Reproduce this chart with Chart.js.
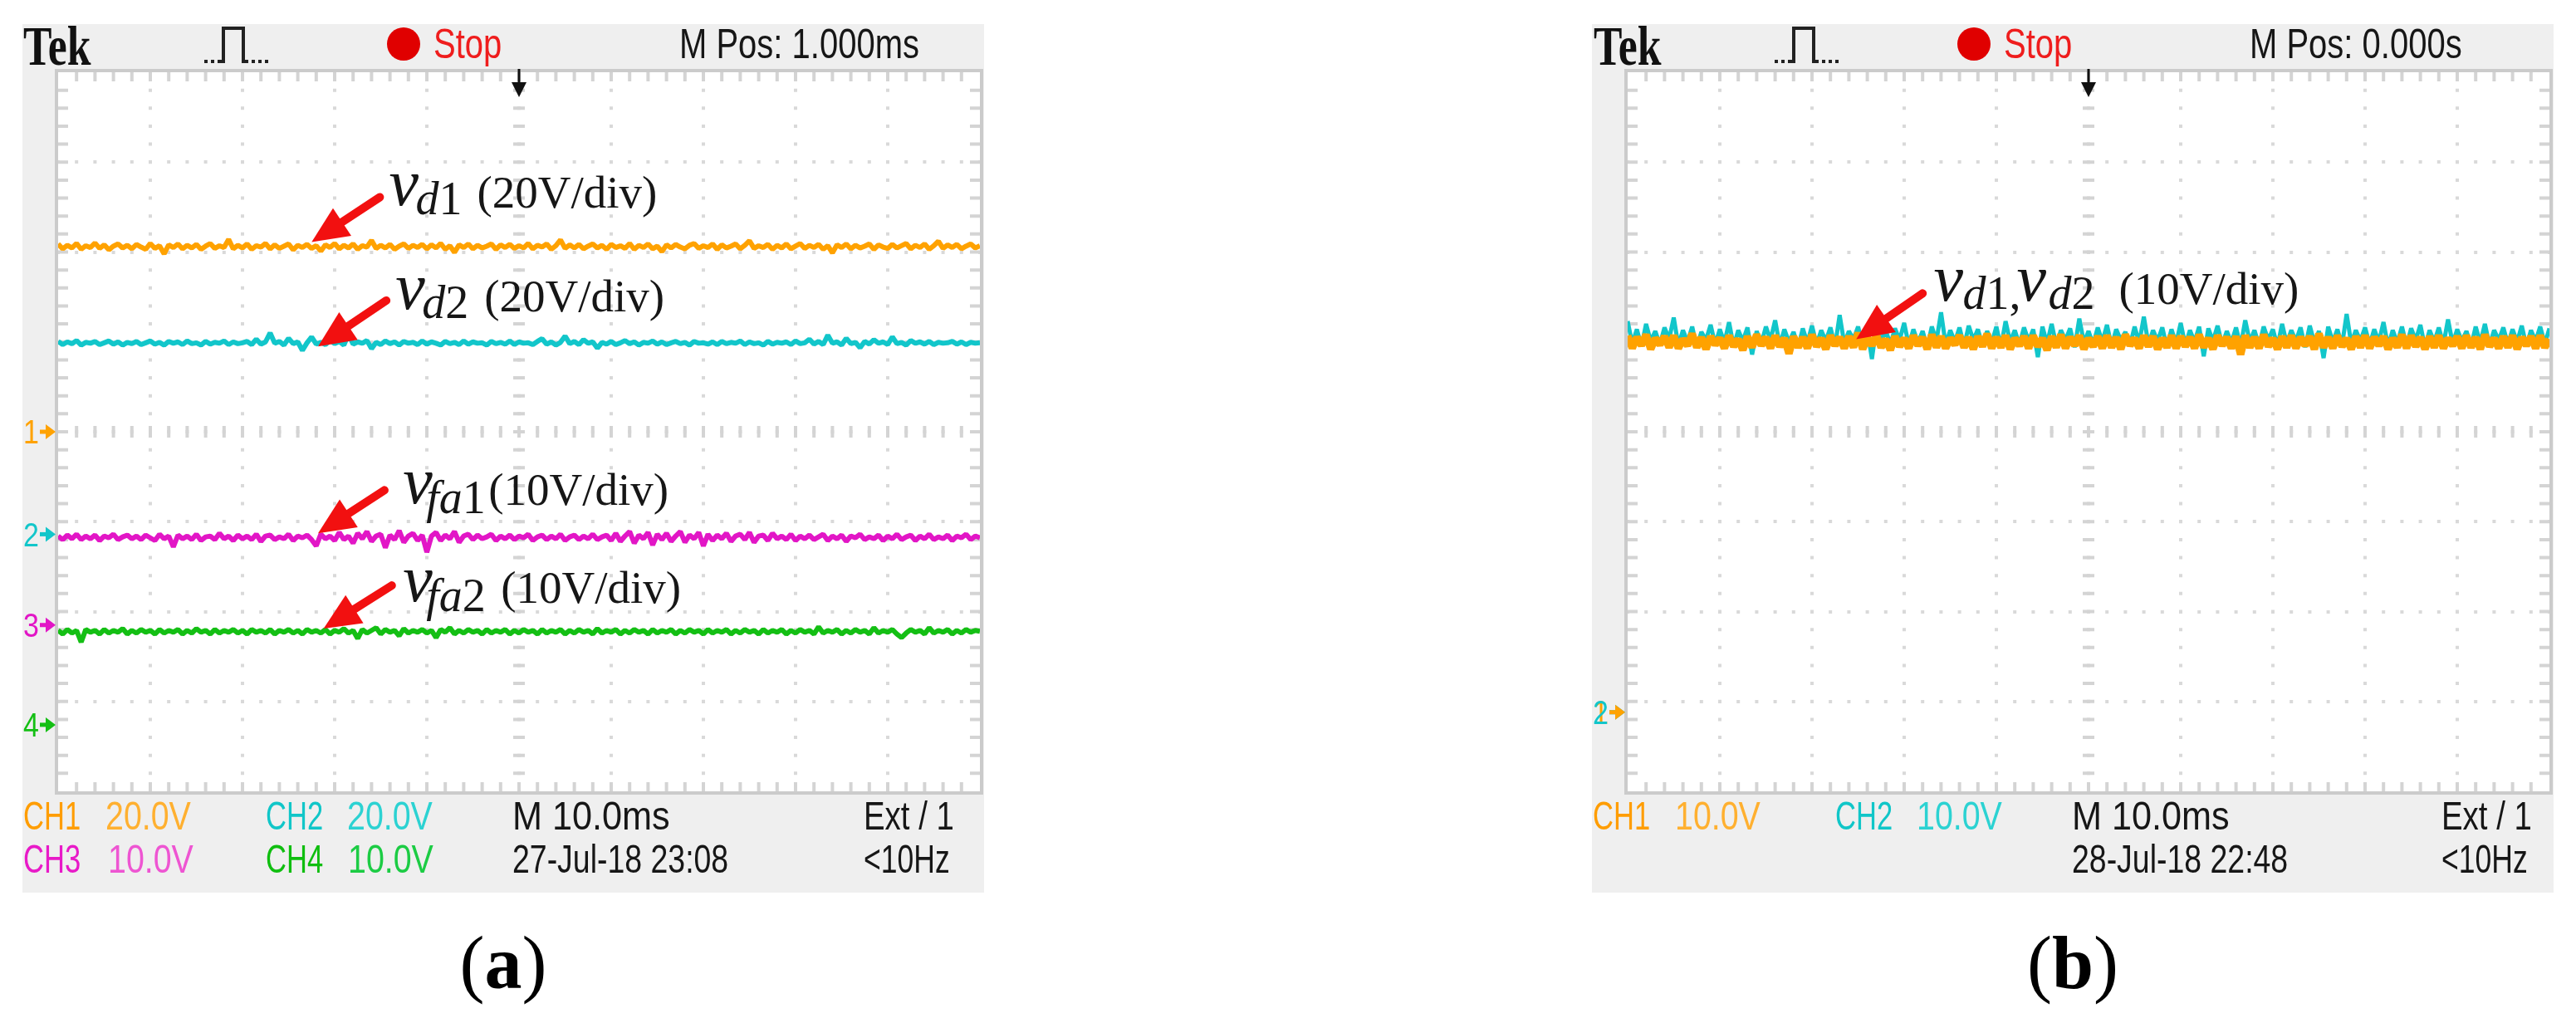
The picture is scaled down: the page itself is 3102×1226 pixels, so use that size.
<!DOCTYPE html>
<html>
<head>
<meta charset="utf-8">
<script src="https://cdn.jsdelivr.net/npm/chart.js@4.4.1/dist/chart.umd.min.js"></script>
<style>
  body { margin: 0; width: 3102px; height: 1226px; background: #fff; position: relative; overflow: hidden; }
  .panel { position: absolute; top: 29px; width: 1158px; height: 1046px; background: #efefef; }
  .panel canvas { position: absolute; left: 0; top: 0; }
  .txt { position: absolute; white-space: nowrap; line-height: 1; transform-origin: 0 0; }
  .dot { position: absolute; width: 40px; height: 40px; border-radius: 50%; background: #e00000; }
  .pulse { position: absolute; }
</style>
</head>
<body>
<div id="panelA" class="panel" style="left:27px"><canvas id="scopeA" width="1158" height="1046"></canvas></div>
<div id="panelB" class="panel" style="left:1917px"><canvas id="scopeB" width="1158" height="1046"></canvas></div>

<script>
// time axis: 10 ms/div, 10 divisions, one sample every 0.5 ms
const timeMs = Array.from({ length: 201 }, (_, i) => i / 2);

// panel (a) channel setup
const voltsPerDivA = [20, 20, 10, 10];
const groundDivA = [0, -1.14, -2.15, -3.26];

// panel (a) traces, volts
const vd1A = [
  41.8,40.7,41.5,40.9,41.9,40.6,41.4,41.0,42.0,40.8,41.6,40.5,41.3,41.8,40.9,41.5,40.7,41.7,41.1,40.6,
  41.9,40.8,41.4,39.6,41.6,41.0,41.8,40.7,41.5,40.9,41.7,40.6,41.3,41.9,40.8,41.4,41.0,42.8,40.7,41.5,
  40.9,41.8,40.6,41.4,41.1,41.9,40.7,41.6,40.8,41.3,41.8,40.5,41.5,41.0,41.7,40.8,41.4,40.2,41.6,41.0,
  41.9,40.7,41.5,40.9,41.8,40.6,41.4,41.1,42.6,40.8,41.5,40.9,41.7,40.6,41.3,41.8,40.8,41.5,41.0,41.7,
  40.7,41.6,40.9,41.9,40.6,41.4,39.9,41.6,41.0,41.8,40.7,41.5,40.9,41.3,41.8,40.6,41.6,41.0,41.7,40.8,
  41.4,40.9,41.9,40.7,41.5,41.1,41.8,40.6,41.4,42.7,40.8,41.6,40.9,41.7,40.7,41.3,41.8,40.9,41.5,40.6,
  41.7,41.0,41.4,40.8,41.9,40.6,41.5,41.0,41.8,40.7,41.3,40.1,41.6,40.9,41.7,41.1,40.7,41.5,41.9,40.8,
  41.4,41.0,41.8,40.6,41.6,40.9,41.3,41.8,40.7,41.5,42.5,40.8,41.4,41.0,41.7,40.6,41.5,40.9,41.8,40.7,
  41.3,41.9,40.8,41.5,41.0,41.7,40.6,41.4,39.8,41.6,41.0,41.8,40.7,41.5,40.9,41.3,41.8,40.6,41.6,41.1,
  40.8,41.7,40.9,41.4,41.9,40.7,41.5,41.0,41.8,40.6,41.4,42.4,40.8,41.6,41.0,41.7,40.7,41.3,41.8,40.9,
  41.4
];
const vd2A = [
  42.9,42.2,42.8,42.4,43.1,42.1,42.7,42.5,42.9,42.2,42.6,43.0,42.3,42.8,42.1,42.7,42.4,42.9,42.2,42.6,
  43.0,42.3,42.7,42.1,42.9,42.5,42.8,42.2,43.0,42.4,42.6,42.1,42.9,42.3,42.7,42.5,43.0,42.2,42.8,42.4,
  42.6,42.9,42.2,43.4,42.3,42.8,44.8,42.5,42.9,42.1,43.6,42.4,42.8,40.9,42.6,43.9,42.3,42.7,42.2,43.2,
  42.4,42.9,42.1,44.5,42.3,42.8,42.5,43.1,41.3,42.7,42.2,43.0,42.4,42.8,42.1,42.9,42.5,42.7,42.2,43.0,
  42.3,42.8,42.5,42.1,42.9,42.4,42.7,42.2,43.0,42.3,42.8,42.5,42.6,42.1,42.9,42.4,42.7,42.3,43.0,42.2,
  42.8,42.5,42.6,42.2,42.9,43.5,42.3,42.8,42.1,42.7,44.1,42.4,42.9,42.2,43.3,42.5,42.8,41.4,42.7,42.3,
  42.9,42.2,42.6,43.1,42.4,42.8,42.1,42.7,42.5,43.0,42.3,42.8,42.2,42.6,42.9,42.4,42.7,42.1,42.9,42.5,
  42.6,42.3,42.8,42.2,42.9,42.4,42.7,42.5,43.0,42.2,42.8,42.4,42.6,42.1,42.9,42.3,42.7,42.5,42.8,42.2,
  43.0,42.4,42.6,43.4,42.3,42.9,42.2,44.3,42.5,42.8,42.1,43.6,42.4,42.7,41.5,42.9,42.3,43.3,42.5,42.8,
  42.2,43.9,42.4,42.7,42.1,43.1,42.5,42.8,42.3,42.9,42.2,42.7,42.5,42.6,42.9,42.3,42.8,42.2,42.7,42.5,
  42.6
];
const vfa1A = [
  9.9,9.5,10.0,9.6,10.1,9.5,9.9,9.6,10.0,9.4,9.9,9.7,10.1,9.5,9.8,10.0,9.6,9.9,9.5,10.0,
  9.7,9.4,10.1,9.6,9.9,8.7,10.0,9.6,9.9,9.5,10.1,9.4,9.8,9.9,9.5,10.2,9.6,9.9,9.4,10.0,
  9.6,9.9,9.5,10.1,9.3,9.9,10.0,9.5,9.8,9.6,10.1,9.4,9.9,9.7,10.0,9.5,8.8,10.1,9.6,9.9,
  9.4,10.3,9.5,9.9,9.1,10.2,9.6,10.4,9.3,9.9,10.1,8.6,10.0,9.5,10.5,9.2,9.9,10.2,9.4,10.0,
  8.1,9.9,10.3,9.4,10.0,9.6,10.4,9.2,9.9,10.1,9.5,10.0,9.6,9.8,10.1,9.4,9.9,9.6,10.0,9.5,
  9.9,9.7,10.1,9.4,9.8,10.0,9.5,9.9,9.6,10.1,9.4,9.8,10.0,9.5,9.9,9.6,10.1,9.5,9.8,10.0,
  9.4,10.2,9.3,9.9,10.4,9.1,10.0,9.6,10.3,8.9,10.1,9.5,10.2,9.3,9.9,10.4,9.2,10.0,9.6,10.3,
  8.8,10.1,9.4,10.0,9.6,10.2,9.3,9.9,10.1,9.5,10.3,9.2,9.9,10.0,9.4,10.2,9.6,9.9,9.5,10.1,
  9.4,9.9,9.6,10.0,9.5,9.8,10.1,9.4,9.9,9.6,10.0,9.3,9.9,9.7,10.1,9.5,9.8,9.6,10.0,9.4,
  9.9,9.6,10.1,9.5,9.8,10.0,9.4,9.9,9.6,10.1,9.5,9.8,9.6,10.0,9.4,9.9,9.7,10.1,9.5,9.9,
  9.7
];
const vfa2A = [
  10.5,10.1,10.6,10.2,10.5,9.2,10.6,10.3,10.5,10.1,10.6,10.2,10.5,10.3,10.7,10.1,10.5,10.2,10.6,10.3,
  10.5,10.1,10.6,10.2,10.5,10.3,10.6,10.1,10.5,10.2,10.7,10.3,10.5,10.1,10.6,10.2,10.5,10.3,10.6,10.2,
  10.5,10.1,10.6,10.3,10.5,10.2,10.6,10.1,10.5,10.3,10.6,10.2,10.5,10.1,10.6,10.3,10.5,10.2,10.6,10.1,
  10.5,10.3,10.7,10.2,10.5,9.6,10.6,10.2,10.5,10.8,10.1,10.6,10.3,10.5,9.9,10.7,10.2,10.5,10.3,10.6,
  10.2,10.5,9.7,10.6,10.3,10.8,10.1,10.5,10.2,10.6,10.3,10.5,10.1,10.6,10.2,10.5,10.3,10.6,10.1,10.5,
  10.2,10.6,10.3,10.5,10.1,10.6,10.2,10.5,10.3,10.6,10.1,10.5,10.2,10.6,10.3,10.5,10.1,10.7,10.2,10.5,
  10.3,10.6,10.1,10.5,10.2,10.6,10.3,10.5,10.1,10.6,10.2,10.5,10.3,10.6,10.1,10.5,10.2,10.6,10.3,10.5,
  10.1,10.6,10.2,10.5,10.3,10.6,10.1,10.5,10.2,10.6,10.3,10.5,10.1,10.6,10.2,10.5,10.3,10.6,10.1,10.5,
  10.2,10.6,10.3,10.5,10.1,10.9,10.2,10.5,10.3,10.6,10.1,10.5,10.2,10.6,10.3,10.5,10.1,10.8,10.2,10.5,
  10.3,10.6,10.1,9.7,10.2,10.6,10.3,10.5,10.1,10.8,10.2,10.5,10.3,10.6,10.1,10.5,10.2,10.6,10.3,10.5,
  10.4
];

// panel (b) channel setup
const voltsPerDivB = [10, 10];
const groundDivB = [-3.12, -3.12];

// panel (b) traces, volts
const vd1B = [
  41.9,40.5,41.7,40.8,42.0,40.4,41.6,40.9,41.8,40.6,41.9,40.5,41.5,40.8,42.1,40.6,41.7,40.4,41.8,40.9,
  41.6,40.5,41.9,40.7,41.5,40.3,41.8,40.6,42.0,40.8,41.7,40.5,41.9,40.7,41.6,39.9,41.8,40.6,41.7,40.5,
  42.0,40.7,41.6,40.4,41.9,40.8,41.7,40.5,41.8,40.6,42.2,40.4,41.7,40.8,41.9,40.6,41.5,40.3,41.8,40.7,
  41.6,40.5,41.9,40.8,41.7,40.4,42.0,40.6,41.8,40.5,41.6,40.9,41.9,40.6,41.7,40.4,41.8,40.7,42.1,40.5,
  41.7,40.6,41.9,40.4,41.6,40.8,41.8,40.5,41.9,40.7,41.6,40.3,41.8,40.6,42.0,40.5,41.7,40.8,41.9,40.4,
  41.6,40.7,41.8,40.5,41.9,40.6,41.7,40.4,42.0,40.8,41.6,40.5,41.9,40.7,41.8,40.4,41.6,40.6,41.9,40.5,
  41.8,40.7,41.7,40.5,42.0,40.6,41.6,40.4,41.9,40.8,41.7,40.5,41.8,39.8,41.9,40.6,41.7,40.5,42.0,40.7,
  41.6,40.4,41.8,40.6,41.9,40.5,41.7,40.8,41.8,40.4,42.1,40.6,41.7,40.5,41.9,40.7,41.6,40.4,41.8,40.6,
  41.9,40.5,41.7,40.8,41.8,40.4,41.6,40.6,42.0,40.5,41.9,40.7,41.7,40.4,41.8,40.6,41.9,40.5,41.6,40.8,
  41.8,40.5,41.9,40.6,41.7,40.4,42.0,40.7,41.6,40.5,41.8,40.6,41.9,40.4,41.7,40.8,41.8,40.5,41.9,40.6,
  41.5
];
const vd2B = [
  43.5,41.0,42.6,40.7,43.2,41.3,42.4,40.9,42.8,41.5,43.9,40.8,42.5,41.2,42.9,40.6,42.3,41.4,43.1,40.9,
  42.6,41.1,43.4,40.7,42.5,41.3,42.8,39.8,42.4,41.0,42.9,41.4,43.6,40.8,42.6,41.2,42.3,40.6,42.7,41.1,
  43.0,40.9,42.5,41.3,42.8,40.7,44.2,41.0,42.4,41.5,42.9,40.8,42.6,39.3,43.1,41.2,42.5,40.9,42.7,41.4,
  43.3,40.8,42.6,41.1,42.4,40.6,42.9,41.3,44.5,40.9,42.5,41.2,42.8,40.7,43.0,41.4,42.6,40.8,42.4,41.1,
  42.9,40.6,43.5,41.2,42.5,40.9,42.8,41.3,42.6,39.5,42.9,41.0,43.2,40.8,42.5,41.4,42.7,40.6,43.8,41.1,
  42.4,40.9,42.8,41.2,43.1,40.7,42.6,41.4,42.3,40.8,42.9,41.1,44.0,40.9,42.5,41.3,42.8,40.6,42.6,41.0,
  43.3,40.8,42.5,41.2,42.9,39.6,42.7,41.3,43.0,40.9,42.4,41.1,42.8,40.7,43.6,41.2,42.5,40.8,42.9,41.4,
  42.6,40.7,43.2,41.0,42.5,41.3,42.8,40.6,43.0,41.1,42.4,39.4,42.9,41.2,42.6,40.8,44.3,41.0,42.5,41.3,
  42.8,40.9,42.6,41.2,43.4,40.7,42.5,41.1,42.9,40.8,42.7,41.4,43.1,40.6,42.5,41.2,42.8,40.9,43.7,41.0,
  42.6,41.3,42.4,40.7,42.9,41.1,43.2,40.8,42.5,41.4,42.8,40.9,42.6,41.2,43.0,40.7,42.5,41.3,42.9,41.0,
  42.7
];

const orange = '#ffa200', cyan = '#12c6ca', magenta = '#e216c6', green = '#14bf14';

// annotation arrows: [tailMs, tailDiv, tipMs, tipDiv]
const arrowsA = [[34.9, 2.61, 27.5, 2.11], [35.6, 1.46, 28.2, 0.95], [35.4, -0.65, 28.2, -1.13], [36.2, -1.71, 28.8, -2.19]];
const arrowsB = [[32.0, 1.54, 24.8, 1.03]];

function toDiv(volts, vdiv, ground) {
  return volts.map(v => v / vdiv + ground);
}

function putText(html, left, baseline, size, o) {
  o = o || {};
  const el = document.createElement('div');
  el.className = 'txt';
  el.innerHTML = html;
  const asc = o.serif ? 0.8375 : 0.8465;
  el.style.left = left + 'px';
  el.style.top = (baseline - asc * size) + 'px';
  el.style.fontSize = size + 'px';
  el.style.fontFamily = o.serif ? '"Liberation Serif", "Times New Roman", serif' : '"Liberation Sans", Arial, sans-serif';
  el.style.color = o.color || '#161616';
  if (o.bold) el.style.fontWeight = 'bold';
  if (o.italic) el.style.fontStyle = 'italic';
  if (o.sx) el.style.transform = 'scaleX(' + o.sx + ')';
  if (o.center) el.style.transform = 'translateX(-50%)';
  document.body.appendChild(el);
  return el;
}

function screenPlugin(arrows, grounds) {
  return {
    id: 'scopeScreen',
    beforeDraw(chart) {
      const { left, top, width, height } = chart.chartArea;
      const ctx = chart.ctx;
      ctx.save();
      ctx.fillStyle = '#ffffff';
      ctx.fillRect(left, top, width, height);
      ctx.restore();
    },
    beforeDatasetsDraw(chart) {
      const ctx = chart.ctx;
      const { left, right, top, bottom } = chart.chartArea;
      const xs = chart.scales.x, ys = chart.scales.y;
      const cy = ys.getPixelForValue(0), cx = xs.getPixelForValue(50);
      ctx.save();
      ctx.strokeStyle = '#d4d4d4';
      ctx.lineWidth = 4;
      ctx.beginPath();
      for (let t = 2; t < 100; t += 2) {
        const px = xs.getPixelForValue(t);
        ctx.moveTo(px, top); ctx.lineTo(px, top + 11);
        ctx.moveTo(px, bottom - 11); ctx.lineTo(px, bottom);
        ctx.moveTo(px, cy - 7); ctx.lineTo(px, cy + 7);
      }
      for (let k = -19; k <= 19; k++) {
        const py = ys.getPixelForValue(k / 5);
        ctx.moveTo(left, py); ctx.lineTo(left + 12, py);
        ctx.moveTo(right - 12, py); ctx.lineTo(right, py);
        ctx.moveTo(cx - 7, py); ctx.lineTo(cx + 7, py);
      }
      ctx.stroke();
      // screen border
      ctx.strokeStyle = '#cbcbcb';
      ctx.lineWidth = 4;
      ctx.strokeRect(left - 2, top - 2, right - left + 4, bottom - top + 4);
      // trigger position marker
      ctx.fillStyle = '#111';
      ctx.fillRect(cx - 1.5, top - 4, 3, 18);
      ctx.beginPath();
      ctx.moveTo(cx - 9, top + 12); ctx.lineTo(cx + 9, top + 12); ctx.lineTo(cx, top + 30);
      ctx.closePath(); ctx.fill();
      // channel ground markers
      grounds.forEach(g => {
        const gy = ys.getPixelForValue(g.div);
        ctx.fillStyle = g.color;
        ctx.fillRect(left - 22, gy - 2.5, 9, 5);
        ctx.beginPath();
        ctx.moveTo(left - 15, gy - 9); ctx.lineTo(left - 3, gy); ctx.lineTo(left - 15, gy + 9);
        ctx.closePath(); ctx.fill();
      });
      ctx.restore();
    },
    afterDatasetsDraw(chart) {
      const ctx = chart.ctx;
      const xs = chart.scales.x, ys = chart.scales.y;
      ctx.save();
      ctx.fillStyle = '#f21010';
      ctx.strokeStyle = '#f21010';
      ctx.lineWidth = 10;
      ctx.lineCap = 'round';
      arrows.forEach(a => {
        const x0 = xs.getPixelForValue(a[0]), y0 = ys.getPixelForValue(a[1]);
        const x1 = xs.getPixelForValue(a[2]), y1 = ys.getPixelForValue(a[3]);
        const ang = Math.atan2(y1 - y0, x1 - x0);
        const hl = 44, hw = 20;
        const bx = x1 - hl * Math.cos(ang), by = y1 - hl * Math.sin(ang);
        ctx.beginPath();
        ctx.moveTo(x0, y0); ctx.lineTo(bx, by);
        ctx.stroke();
        ctx.beginPath();
        ctx.moveTo(x1, y1);
        ctx.lineTo(bx + hw * Math.sin(ang), by - hw * Math.cos(ang));
        ctx.lineTo(bx - hw * Math.sin(ang), by + hw * Math.cos(ang));
        ctx.closePath();
        ctx.fill();
      });
      ctx.restore();
    }
  };
}

function scopeChart(canvasId, datasets, arrows, grounds) {
  const gridColor = (edge) => (ctx) => (ctx.tick && (ctx.tick.value === edge[0] || ctx.tick.value === edge[1])) ? 'rgba(0,0,0,0)' : '#d9d9d9';
  return new Chart(document.getElementById(canvasId), {
    type: 'line',
    data: { labels: timeMs, datasets: datasets },
    options: {
      responsive: false,
      animation: false,
      devicePixelRatio: 1,
      layout: { padding: { left: 43, top: 58, right: 5, bottom: 122 } },
      plugins: { legend: { display: false }, tooltip: { enabled: false } },
      elements: { point: { radius: 0 }, line: { tension: 0, borderJoinStyle: 'bevel' } },
      scales: {
        x: {
          type: 'linear', min: 0, max: 100,
          ticks: { display: false, stepSize: 10 },
          grid: { color: gridColor([0, 100]), lineWidth: 4, drawTicks: false },
          border: { display: false, dash: [4, 17.65], dashOffset: 2 }
        },
        y: {
          min: -4, max: 4,
          ticks: { display: false, stepSize: 1 },
          grid: { color: gridColor([-4, 4]), lineWidth: 4, drawTicks: false },
          border: { display: false, dash: [4, 18.2], dashOffset: 2 }
        }
      }
    },
    plugins: [screenPlugin(arrows, grounds)]
  });
}

const chartA = scopeChart('scopeA', [
  { data: toDiv(vd1A, voltsPerDivA[0], groundDivA[0]), borderColor: orange, borderWidth: 6 },
  { data: toDiv(vd2A, voltsPerDivA[1], groundDivA[1]), borderColor: cyan, borderWidth: 6 },
  { data: toDiv(vfa1A, voltsPerDivA[2], groundDivA[2]), borderColor: magenta, borderWidth: 6 },
  { data: toDiv(vfa2A, voltsPerDivA[3], groundDivA[3]), borderColor: green, borderWidth: 6 }
], arrowsA, [
  { div: groundDivA[0], color: orange }, { div: groundDivA[1], color: cyan },
  { div: groundDivA[2], color: magenta }, { div: groundDivA[3], color: green }
]);

const chartB = scopeChart('scopeB', [
  { data: toDiv(vd1B, voltsPerDivB[0], groundDivB[0]), borderColor: orange, borderWidth: 9, order: 0 },
  { data: toDiv(vd2B, voltsPerDivB[1], groundDivB[1]), borderColor: cyan, borderWidth: 5, order: 1 }
], arrowsB, [
  { div: groundDivB[1], color: cyan }, { div: groundDivB[0], color: orange }
]);

// ---- texts ----
function header(dx, mpos) {
  putText('Tek', 28 + dx, 78, 68, { serif: true, bold: true, sx: 0.76, color: '#111' });
  const svg = document.createElementNS('http://www.w3.org/2000/svg', 'svg');
  svg.setAttribute('class', 'pulse');
  svg.setAttribute('width', '82'); svg.setAttribute('height', '50');
  svg.style.left = (244 + dx) + 'px'; svg.style.top = '30px';
  svg.innerHTML = '<path d="M2 44h4M10 44h4M18 44h7V4h24v40h6M59 44h4M67 44h4M75 44h4" fill="none" stroke="#222" stroke-width="4"/>';
  document.body.appendChild(svg);
  const d = document.createElement('div');
  d.className = 'dot';
  d.style.left = (466 + dx) + 'px'; d.style.top = '33px';
  document.body.appendChild(d);
  putText('Stop', 522 + dx, 70, 50, { sx: 0.8, color: '#ef1d1d' });
  putText(mpos, 818 + dx, 70, 50, { sx: 0.8 });
}
header(0, 'M Pos: 1.000ms');
header(1891, 'M Pos: 0.000s');

const row1 = 1000, row2 = 1052;
[
  ['CH1', 28, row1, '#ff9d00', 0.72], ['20.0V', 127, row1, '#ffb030', 0.82],
  ['CH2', 320, row1, '#10c6c8', 0.72], ['20.0V', 418, row1, '#2cd2d2', 0.82],
  ['M 10.0ms', 617, row1, '#161616', 0.9], ['Ext / 1', 1040, row1, '#161616', 0.8],
  ['CH3', 28, row2, '#e81ac8', 0.72], ['10.0V', 130, row2, '#ee55d2', 0.82],
  ['CH4', 320, row2, '#0fbe0f', 0.72], ['10.0V', 419, row2, '#1ccc44', 0.82],
  ['27-Jul-18 23:08', 617, row2, '#161616', 0.78], ['&lt;10Hz', 1040, row2, '#161616', 0.74],
  ['CH1', 1918, row1, '#ff9d00', 0.72], ['10.0V', 2017, row1, '#ffb030', 0.82],
  ['CH2', 2210, row1, '#10c6c8', 0.72], ['10.0V', 2308, row1, '#2cd2d2', 0.82],
  ['M 10.0ms', 2495, row1, '#161616', 0.9], ['Ext / 1', 2940, row1, '#161616', 0.8],
  ['28-Jul-18 22:48', 2495, row2, '#161616', 0.78], ['&lt;10Hz', 2940, row2, '#161616', 0.74]
].forEach(t => putText(t[0], t[1], t[2], 48, { color: t[3], sx: t[4] }));

// ground marker digits, placed through the y scale
function markerDigits(chart, panelLeft, list) {
  const ys = chart.scales.y;
  list.forEach(m => {
    const gy = 29 + ys.getPixelForValue(m.div);
    putText(m.text, panelLeft + 1, gy + 14, 40, { color: m.color, sx: 0.85 });
  });
}
markerDigits(chartA, 27, [
  { text: '1', div: groundDivA[0], color: orange }, { text: '2', div: groundDivA[1], color: cyan },
  { text: '3', div: groundDivA[2], color: magenta }, { text: '4', div: groundDivA[3], color: green }
]);
markerDigits(chartB, 1917, [
  { text: '1', div: groundDivB[0], color: orange }, { text: '2', div: groundDivB[1], color: cyan }
]);

// trace labels, anchored on the chart scales
function traceLabel(chart, panelLeft, x, y, parts) {
  const bx = panelLeft + chart.scales.x.getPixelForValue(x);
  const by = 29 + chart.scales.y.getPixelForValue(y);
  parts.forEach(p => putText(p[0], bx + p[1], by + p[2], p[3], { serif: true, italic: p[4] }));
}
traceLabel(chartA, 27, 35.9, 2.52, [['v', 0, 0, 80, true], ['<i>d</i>1', 32, 11, 56], ['(20V/div)', 106, 3, 55]]);
traceLabel(chartA, 27, 36.6, 1.37, [['v', 0, 0, 80, true], ['<i>d</i>2', 32, 11, 56], ['(20V/div)', 107, 3, 55]]);
traceLabel(chartA, 27, 37.4, -0.79, [['v', 0, 0, 80, true], ['<i>fa</i>1', 28, 12, 56], ['(10V/div)', 103, 3, 55]]);
traceLabel(chartA, 27, 37.4, -1.88, [['v', 0, 0, 80, true], ['<i>fa</i>2', 28, 12, 56], ['(10V/div)', 118, 3, 55]]);
traceLabel(chartB, 1917, 33.2, 1.46, [['v', 0, 0, 80, true], ['<i>d</i>1,', 35, 10, 56], ['v', 100, 0, 80, true], ['<i>d</i>2', 138, 10, 56], ['(10V/div)', 223, 4, 55]]);

// captions
putText('(<b>a</b>)', 606, 1190, 90, { serif: true, center: true, color: '#000' });
putText('(<b>b</b>)', 2496, 1190, 90, { serif: true, center: true, color: '#000' });
</script>
</body>
</html>
